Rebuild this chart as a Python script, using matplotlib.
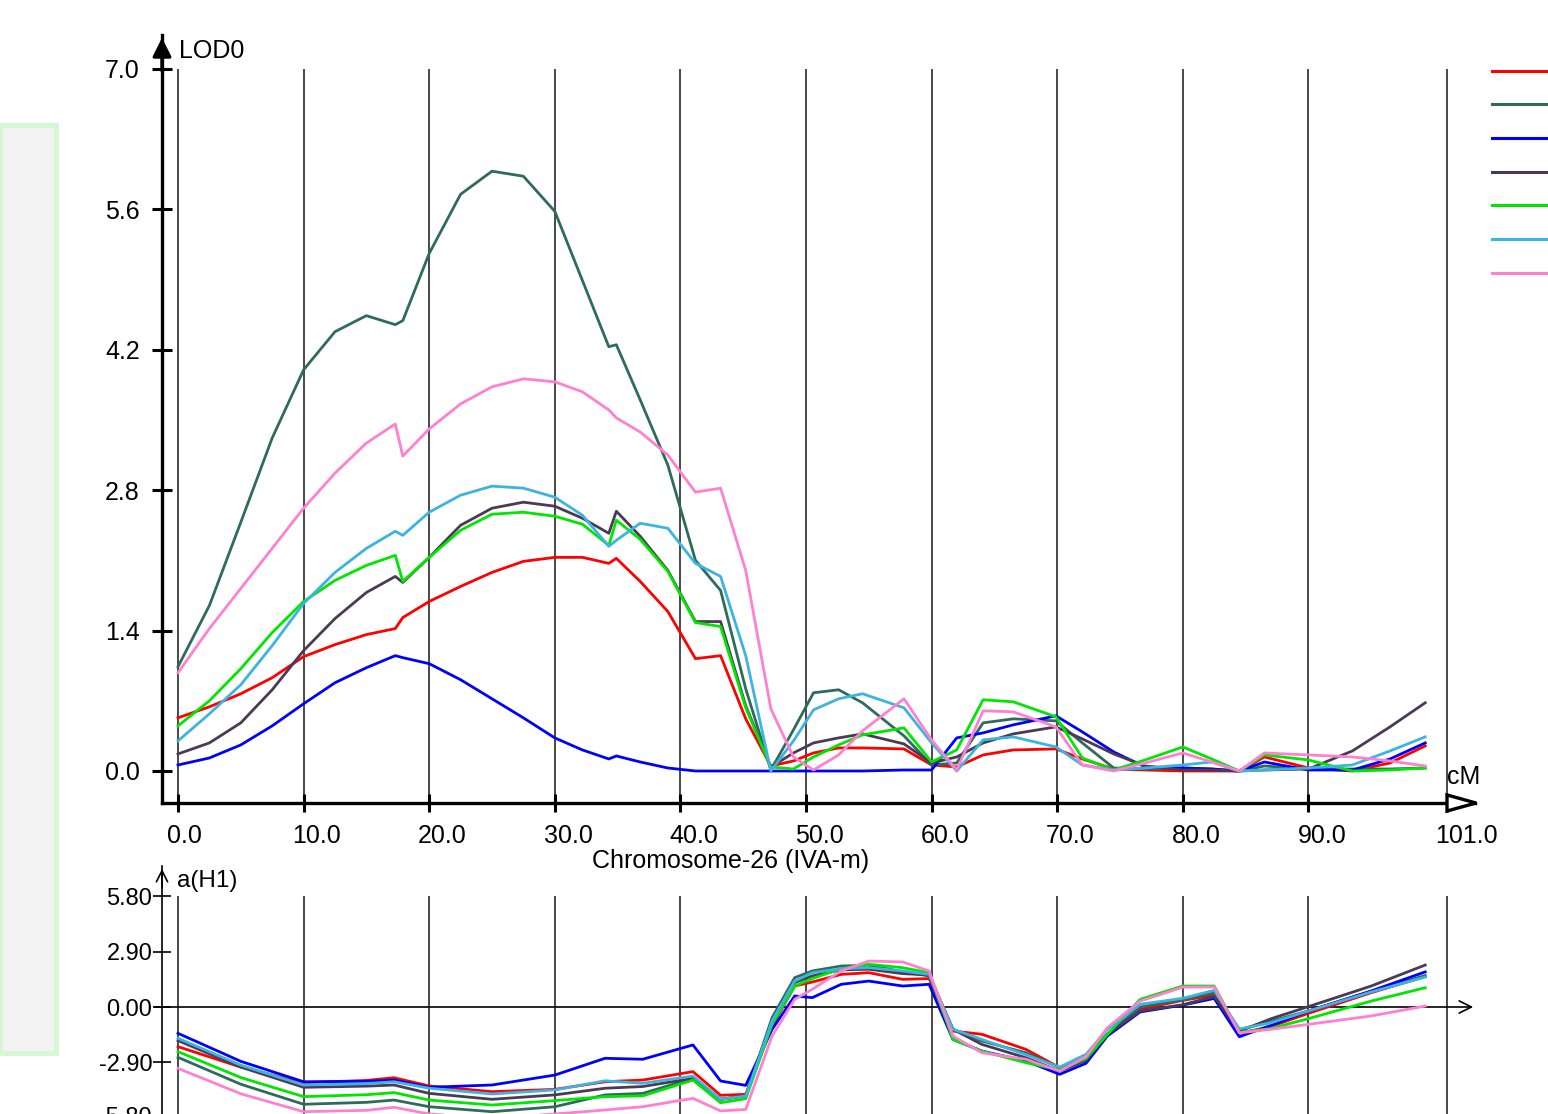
import matplotlib
matplotlib.use('Agg')
import matplotlib.pyplot as plt
from matplotlib.lines import Line2D
from matplotlib.patches import Rectangle, Polygon

plt.rcParams['font.family'] = ['Liberation Sans', 'DejaVu Sans']

W, H = 1548, 1114

# ---- data ----
colors = ['#ff0000', '#2e6b5c', '#0000ff', '#4b3a55', '#00e600', '#3cb4e0', '#ff80d0']

# LOD profile (top panel)
xt = [0, 2.5, 5, 7.5, 10, 12.5, 15, 17.3, 17.9, 20, 22.5, 25, 27.5, 30, 32.2, 34.3, 34.9,
      36.8, 39, 41.2, 43.2, 45.2, 47.2, 49, 50.6, 52.6, 54.5, 57.8, 60, 62, 64.1, 66.5,
      69.9, 72, 74.5, 77, 80, 82.3, 84.5, 86.5, 90, 93.5, 96.5, 99.3]
lod_red = [0.53, 0.64, 0.77, 0.93, 1.14, 1.26, 1.36, 1.42, 1.53, 1.69, 1.84, 1.98, 2.09, 2.13, 2.13, 2.07, 2.12,
           1.89, 1.59, 1.12, 1.15, 0.52, 0.05, 0.10, 0.18, 0.23, 0.23, 0.22, 0.06, 0.04, 0.16, 0.21,
           0.22, 0.12, 0.02, 0.01, 0.0, 0.0, 0.0, 0.14, 0.03, 0.0, 0.08, 0.25]
lod_dkgreen = [1.04, 1.65, 2.48, 3.32, 4.0, 4.38, 4.54, 4.45, 4.49, 5.16, 5.75, 5.98, 5.93, 5.58, 4.89, 4.23, 4.25,
               3.70, 3.05, 2.10, 1.80, 0.82, 0.01, 0.41, 0.78, 0.81, 0.68, 0.35, 0.06, 0.08, 0.48, 0.52,
               0.50, 0.28, 0.03, 0.02, 0.03, 0.02, 0.0, 0.05, 0.02, 0.02, 0.02, 0.03]
lod_blue = [0.06, 0.13, 0.26, 0.45, 0.67, 0.88, 1.03, 1.15, 1.13, 1.07, 0.91, 0.72, 0.53, 0.33, 0.21, 0.12, 0.15,
            0.09, 0.03, 0.0, 0.0, 0.0, 0.0, 0.0, 0.0, 0.0, 0.0, 0.01, 0.01, 0.33, 0.38, 0.46,
            0.55, 0.39, 0.19, 0.04, 0.03, 0.02, 0.0, 0.09, 0.01, 0.01, 0.12, 0.28]
lod_purple = [0.17, 0.28, 0.48, 0.81, 1.20, 1.52, 1.78, 1.94, 1.88, 2.13, 2.45, 2.62, 2.68, 2.64, 2.52, 2.37, 2.59,
              2.34, 2.00, 1.49, 1.49, 0.65, 0.04, 0.18, 0.28, 0.33, 0.37, 0.27, 0.08, 0.14, 0.28, 0.37,
              0.44, 0.32, 0.17, 0.05, 0.01, 0.01, 0.0, 0.01, 0.02, 0.20, 0.44, 0.68]
lod_green = [0.45, 0.70, 1.02, 1.38, 1.69, 1.90, 2.05, 2.15, 1.89, 2.13, 2.40, 2.56, 2.58, 2.54, 2.46, 2.25, 2.50,
             2.31, 1.99, 1.48, 1.44, 0.63, 0.04, 0.02, 0.14, 0.26, 0.36, 0.43, 0.09, 0.21, 0.71, 0.69,
             0.54, 0.13, 0.01, 0.11, 0.24, 0.12, 0.0, 0.16, 0.11, 0.0, 0.01, 0.03]
lod_ltblue = [0.30, 0.57, 0.86, 1.25, 1.67, 1.98, 2.22, 2.39, 2.35, 2.58, 2.75, 2.84, 2.82, 2.73, 2.55, 2.24, 2.30,
              2.47, 2.42, 2.07, 1.94, 1.15, 0.0, 0.30, 0.61, 0.72, 0.77, 0.63, 0.28, 0.0, 0.31, 0.34,
              0.24, 0.06, 0.01, 0.03, 0.06, 0.09, 0.0, 0.01, 0.03, 0.06, 0.20, 0.34]
lod_pink = [0.98, 1.42, 1.82, 2.22, 2.62, 2.97, 3.27, 3.46, 3.14, 3.41, 3.66, 3.83, 3.91, 3.88, 3.78, 3.60, 3.52,
            3.38, 3.15, 2.78, 2.82, 2.0, 0.62, 0.14, 0.01, 0.16, 0.40, 0.72, 0.31, 0.01, 0.60, 0.59,
            0.44, 0.06, 0.0, 0.08, 0.18, 0.09, 0.0, 0.18, 0.16, 0.14, 0.10, 0.05]

# additive effect a(H1) (bottom panel)
xb = [0, 5, 10, 15, 17.2, 20, 25, 30, 34, 37, 41, 43.2, 45.2, 47.3, 49.1, 50.5, 52.8, 55, 57.7,
      59.8, 61.7, 64, 67.5, 70.2, 72.3, 74, 76.6, 80, 82.5, 84.5, 87, 90, 95, 99.3]
a_red = [-2.08, -3.15, -3.97, -3.85, -3.71, -4.14, -4.44, -4.32, -3.92, -3.83, -3.39, -4.63, -4.58, -1.0, 1.10, 1.31, 1.71, 1.80, 1.45,
         1.49, -1.26, -1.43, -2.22, -3.18, -2.66, -1.43, -0.12, 0.35, 0.62, -1.38, -1.03, -0.33, 0.75, 1.60]
a_dkgreen = [-2.64, -4.05, -5.10, -5.0, -4.88, -5.23, -5.49, -5.23, -4.61, -4.53, -3.74, -4.84, -4.67, -0.56, 1.54, 1.89, 2.15, 2.19, 1.85,
             1.63, -1.17, -1.78, -2.40, -3.18, -2.60, -1.43, 0.0, 0.37, 0.75, -1.20, -0.75, -0.21, 0.82, 1.65]
a_blue = [-1.38, -2.85, -3.92, -3.90, -3.83, -4.21, -4.09, -3.57, -2.69, -2.74, -1.99, -3.88, -4.11, -1.17, 0.58, 0.49, 1.19, 1.36, 1.10,
          1.19, -1.70, -2.31, -2.83, -3.53, -2.95, -1.52, -0.26, 0.10, 0.45, -1.56, -0.97, -0.21, 0.84, 1.84]
a_purple = [-1.76, -3.15, -4.21, -4.15, -4.09, -4.53, -4.84, -4.61, -4.26, -4.17, -3.74, -4.84, -4.67, -0.73, 1.28, 1.63, 1.95, 1.98, 1.75,
            1.68, -1.17, -1.96, -2.66, -3.36, -2.80, -1.43, -0.21, 0.12, 0.55, -1.27, -0.62, 0.02, 1.10, 2.20]
a_green = [-2.34, -3.70, -4.70, -4.60, -4.49, -4.88, -5.14, -4.91, -4.70, -4.66, -3.83, -5.02, -4.81, -0.91, 1.10, 1.49, 2.01, 2.24, 2.06,
           1.80, -1.70, -2.31, -2.92, -3.30, -2.70, -1.43, 0.40, 1.10, 1.10, -1.33, -1.13, -0.61, 0.31, 1.01]
a_ltblue = [-1.64, -3.05, -4.09, -4.02, -3.92, -4.26, -4.56, -4.35, -3.87, -4.00, -3.62, -4.84, -4.67, -0.73, 1.36, 1.80, 2.01, 2.06, 1.89,
            1.71, -1.17, -1.70, -2.50, -3.15, -2.48, -1.17, 0.14, 0.46, 0.87, -1.15, -0.83, -0.21, 0.79, 1.57]
a_pink = [-3.22, -4.55, -5.49, -5.42, -5.26, -5.61, -5.85, -5.61, -5.40, -5.23, -4.79, -5.45, -5.37, -1.52, 0.40, 0.93, 1.89, 2.41, 2.36,
          1.89, -1.52, -2.40, -2.74, -3.36, -2.60, -1.08, 0.31, 1.04, 1.05, -1.36, -1.17, -0.91, -0.47, 0.05]

lod_series = [lod_red, lod_dkgreen, lod_blue, lod_purple, lod_green, lod_ltblue, lod_pink]
a_series = [a_red, a_dkgreen, a_blue, a_purple, a_green, a_ltblue, a_pink]

xticks = [0, 10, 20, 30, 40, 50, 60, 70, 80, 90, 101]
xlabels = ['0.0', '10.0', '20.0', '30.0', '40.0', '50.0', '60.0', '70.0', '80.0', '90.0', '101.0']
lod_ticks = [0.0, 1.4, 2.8, 4.2, 5.6, 7.0]
a_ticks = [5.8, 2.9, 0.0, -2.9]
a_labels = ['5.80', '2.90', '0.00', '-2.90']


# screenshot pixel -> data helpers
def px2cm(px):
    return (px - 178) / 12.56


def py2lod(py):
    return (771 - py) / 100.3


def py2a(py):
    return (1007 - py) / 19.07


fig = plt.figure(figsize=(W / 100, H / 100), dpi=100, facecolor='white')

# left side panel of the program window
fig.add_artist(Rectangle((0, 1 - 1053 / H), 56 / W, (1053 - 125) / H, transform=fig.transFigure,
                         facecolor='#f3f3f3', edgecolor='#d4f7d4', lw=3.5))

# ---------------- top panel: LOD ----------------
ax1 = fig.add_axes([162 / W, 1 - 803 / H, (1475 - 162) / W, (803 - 35) / H])
ax1.patch.set_visible(False)
ax1.set_xlim(px2cm(162), px2cm(1475))
ax1.set_ylim(py2lod(803), py2lod(35))
ax1.vlines(xticks, py2lod(803), 7.0, color='#2a2a2a', lw=1.2, zorder=1)
for ys, c in zip(lod_series, colors):
    ax1.plot(xt, ys, color=c, lw=2, zorder=3)

for s in ['top', 'right']:
    ax1.spines[s].set_visible(False)
for s in ['left', 'bottom']:
    ax1.spines[s].set_linewidth(2.4)
ax1.set_yticks(lod_ticks, labels=[f'{v:.1f}' for v in lod_ticks])
ax1.tick_params(axis='y', direction='inout', length=14, width=2.2, labelsize=18, pad=9)
ax1.set_xticks(xticks)
ax1.tick_params(axis='x', direction='inout', length=13, width=2.2, labelbottom=False)

ax1.annotate('', xy=(0, 1), xytext=(0, 0.95), xycoords='axes fraction',
             arrowprops=dict(arrowstyle='-|>', color='black', lw=2.4, mutation_scale=28),
             annotation_clip=False)
yb = py2lod(803)
ax1.add_patch(Polygon([(px2cm(1447), yb + 0.08), (px2cm(1447), yb - 0.08), (px2cm(1476), yb)],
                      closed=True, facecolor='white', edgecolor='black', lw=2.4, clip_on=False, zorder=5))

for xv, lab in zip(xticks, xlabels):
    ax1.text(xv - 11 / 12.56, py2lod(836), lab, ha='left', va='center', fontsize=18)
ax1.text(px2cm(179), py2lod(51), 'LOD0', ha='left', va='center', fontsize=18)
ax1.text(px2cm(1447), py2lod(777), 'cM', ha='left', va='center', fontsize=18)
ax1.text(px2cm(731), py2lod(861), 'Chromosome-26 (IVA-m)', ha='center', va='center', fontsize=18)

# ---------------- bottom panel: a(H1) ----------------
ax2 = fig.add_axes([162 / W, 0, (1475 - 162) / W, (1114 - 866) / H])
ax2.patch.set_visible(False)
ax2.set_xlim(px2cm(162), px2cm(1475))
ax2.set_ylim(py2a(1114), py2a(866))
ax2.vlines(xticks, py2a(1114), 5.8, color='#2a2a2a', lw=1.2, zorder=1)
ax2.annotate('', xy=(px2cm(1476), 0), xytext=(px2cm(152), 0),
             arrowprops=dict(arrowstyle='->', color='black', lw=1.2, mutation_scale=22),
             annotation_clip=False, zorder=2)
for ys, c in zip(a_series, colors):
    ax2.plot(xb, ys, color=c, lw=2, zorder=3)

for s in ['top', 'right', 'bottom']:
    ax2.spines[s].set_visible(False)
ax2.spines['left'].set_linewidth(1.2)
ax2.set_xticks([])
ax2.set_yticks(a_ticks, labels=a_labels)
ax2.tick_params(axis='y', direction='inout', length=13, width=1.2, labelsize=17, pad=0.5)
ax2.text(px2cm(152), -5.8, '-5.80', ha='right', va='center', fontsize=17, clip_on=False)
ax2.annotate('', xy=(0, 1), xytext=(0, 0.9), xycoords='axes fraction',
             arrowprops=dict(arrowstyle='->', color='black', lw=1.2, mutation_scale=20),
             annotation_clip=False)
ax2.text(px2cm(177), py2a(881), 'a(H1)', ha='left', va='center', fontsize=17.5, clip_on=False)

# legend swatches (labels are outside the visible window)
legend_py = [71, 104, 138, 172, 205, 239, 273]
for py, c in zip(legend_py, colors):
    fig.add_artist(Line2D([1492 / W, 1.0], [1 - py / H] * 2, color=c, lw=2.2,
                          transform=fig.transFigure))

fig.savefig('out.png', dpi=100, facecolor='white')
